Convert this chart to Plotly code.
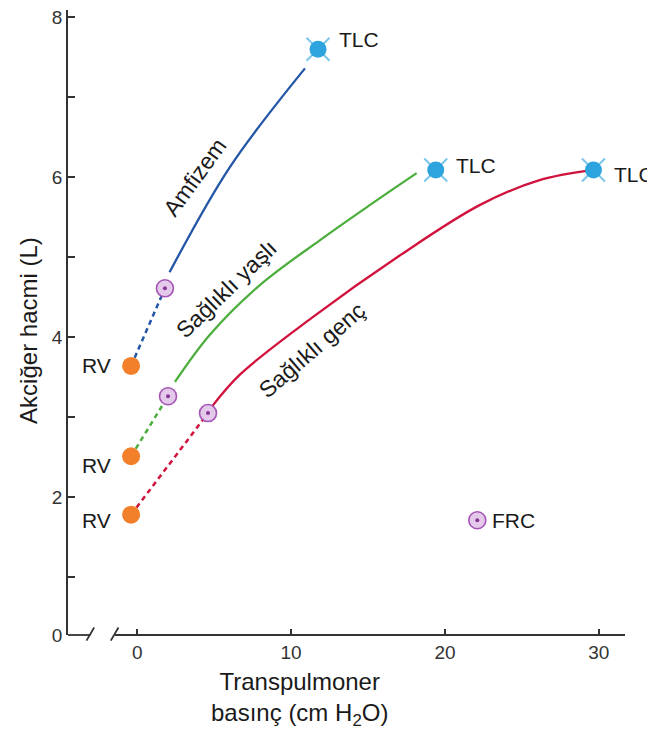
import plotly.graph_objects as go

# ---------------- data ----------------
# Emphysema (Amfizem)
emph_rv = (-0.4, 3.64)
emph_frc = (1.8, 4.61)
emph_x = [2.1, 6.0, 10.9]
emph_y = [4.81, 6.12, 7.36]
emph_tlc = (11.75, 7.6)

# Healthy old (Sağlıklı yaşlı)
old_rv = (-0.4, 2.51)
old_frc = (2.0, 3.26)
old_x = [2.45, 4.72, 7.97, 11.86, 15.11, 18.16]
old_y = [3.44, 4.03, 4.65, 5.21, 5.65, 6.05]
old_tlc = (19.4, 6.09)

# Healthy young (Sağlıklı genç)
young_rv = (-0.4, 1.78)
young_frc = (4.6, 3.05)
young_x = [4.85, 6.67, 11.34, 17.06, 22.25, 26.1, 29.65]
young_y = [3.13, 3.53, 4.24, 5.02, 5.65, 5.96, 6.09]
young_tlc = (29.65, 6.09)

frc_legend = (22.1, 1.71)

x_tickvals = [0, 10, 20, 30]
x_ticktext = ["0", "10", "20", "30"]
y_base = 0.275
y_tickvals = [y_base, 2, 4, 6, 8]
y_ticktext = ["0", "2", "4", "6", "8"]
y_minor = [1, 3, 5, 7]

# ---------------- style ----------------
BLUE = "#2356a6"
GREEN = "#4cae3c"
RED = "#d0123c"
ORANGE = "#f2802a"
TLC_C = "#2ea4de"
TLC_SPIKE = "#7cc6ec"
FRC_FILL = "#e4c9ea"
FRC_LINE = "#a456b4"
FRC_DOT = "#8a3399"
AX = "#333333"
FONT = "Liberation Sans, Arial, sans-serif"

fig = go.Figure()

def dashed(p0, p1, color):
    fig.add_trace(go.Scatter(x=[p0[0], p1[0]], y=[p0[1], p1[1]], mode="lines",
                             line=dict(color=color, width=2.5, dash="5px,4px"),
                             hoverinfo="skip", showlegend=False))

def solid(xs, ys, color):
    fig.add_trace(go.Scatter(x=xs, y=ys, mode="lines",
                             line=dict(color=color, width=2.3, shape="spline", smoothing=1.0),
                             hoverinfo="skip", showlegend=False))

def rv(p):
    fig.add_trace(go.Scatter(x=[p[0]], y=[p[1]], mode="markers",
                             marker=dict(color=ORANGE, size=18, line=dict(width=0)),
                             hoverinfo="skip", showlegend=False))

def frc(p):
    fig.add_trace(go.Scatter(x=[p[0]], y=[p[1]], mode="markers",
                             marker=dict(color=FRC_FILL, size=17, line=dict(color=FRC_LINE, width=1.6)),
                             hoverinfo="skip", showlegend=False))
    fig.add_trace(go.Scatter(x=[p[0]], y=[p[1]], mode="markers",
                             marker=dict(color=FRC_DOT, size=4, line=dict(width=0)),
                             hoverinfo="skip", showlegend=False))

def tlc(p):
    fig.add_trace(go.Scatter(x=[p[0]], y=[p[1]], mode="markers",
                             marker=dict(symbol="x-thin", size=23, line=dict(color=TLC_SPIKE, width=2)),
                             hoverinfo="skip", showlegend=False))
    fig.add_trace(go.Scatter(x=[p[0]], y=[p[1]], mode="markers",
                             marker=dict(color=TLC_C, size=17, line=dict(width=0)),
                             hoverinfo="skip", showlegend=False))

dashed(emph_rv, emph_frc, BLUE)
dashed(old_rv, old_frc, GREEN)
dashed(young_rv, young_frc, RED)
solid(emph_x, emph_y, BLUE)
solid(old_x, old_y, GREEN)
solid(young_x, young_y, RED)
for p in (emph_rv, old_rv, young_rv):
    rv(p)
for p in (emph_frc, old_frc, young_frc, frc_legend):
    frc(p)
for p in (emph_tlc, old_tlc, young_tlc):
    tlc(p)

ann = []
def txt(x, y, s, xanchor="left", angle=0, size=21):
    ann.append(dict(x=x, y=y, xref="x", yref="y", text=s, showarrow=False,
                    xanchor=xanchor, yanchor="middle", textangle=angle,
                    font=dict(family=FONT, size=size, color="#1a1a1a")))

txt(emph_tlc[0] + 1.2, emph_tlc[1] + 0.12, "TLC")
txt(old_tlc[0] + 1.2, old_tlc[1] + 0.06, "TLC")
txt(young_tlc[0] + 1.2, young_tlc[1] - 0.06, "TLC")
txt(-1.6, 3.64, "RV", xanchor="right")
txt(-1.6, 2.4, "RV", xanchor="right")
txt(-1.6, 1.71, "RV", xanchor="right")
txt(frc_legend[0] + 0.85, frc_legend[1], "FRC")
txt(3.75, 6.0, "Amfizem", xanchor="center", angle=-54, size=23)
txt(5.8, 4.6, "Sağlıklı yaşlı", xanchor="center", angle=-44, size=23)
txt(11.35, 3.84, "Sağlıklı genç", xanchor="center", angle=-41, size=23)

ann.append(dict(x=0.4165, y=-0.05, xref="paper", yref="paper", showarrow=False,
                xanchor="center", yanchor="top", align="center",
                text="Transpulmoner<br>basınç (cm H<sub>2</sub>O)",
                font=dict(family=FONT, size=24, color="#1a1a1a")))
ann.append(dict(x=-0.072, y=0.488, xref="paper", yref="paper", showarrow=False,
                xanchor="center", yanchor="middle", textangle=-90,
                text="Akciğer hacmi (L)",
                font=dict(family=FONT, size=24, color="#1a1a1a")))

# broken x-axis baseline
ax_line = dict(color=AX, width=1.8)
shapes = [
    dict(type="line", xref="x", yref="paper", x0=-4.5, x1=-3.05, y0=0, y1=0, line=ax_line),
    dict(type="line", xref="x", yref="paper", x0=-3.3, x1=-2.8, y0=-0.009, y1=0.012, line=ax_line),
    dict(type="line", xref="x", yref="paper", x0=-1.72, x1=-1.22, y0=-0.009, y1=0.012, line=ax_line),
    dict(type="line", xref="x", yref="paper", x0=-1.45, x1=31.7, y0=0, y1=0, line=ax_line),
]

# page body has an 8px margin, so the figure is 8px smaller and offset
fig.update_layout(
    width=647, height=725,
    margin=dict(l=60, r=30, t=2, b=98, autoexpand=False),
    paper_bgcolor="white", plot_bgcolor="white",
    showlegend=False,
    annotations=ann, shapes=shapes,
    font=dict(family=FONT, size=19, color=AX),
    xaxis=dict(range=[-4.5, 31.7], tickvals=x_tickvals, ticktext=x_ticktext,
               ticks="inside", ticklen=6, tickwidth=1.5, tickcolor=AX,
               ticklabelstandoff=4,
               showline=False, showgrid=False, zeroline=False,
               tickfont=dict(family=FONT, size=19, color=AX)),
    yaxis=dict(range=[y_base, 8.09], tickvals=y_tickvals, ticktext=y_ticktext,
               ticks="inside", ticklen=7, tickwidth=1.5, tickcolor=AX,
               ticklabeloverflow="allow",
               minor=dict(tickvals=y_minor, ticks="inside", ticklen=7, tickwidth=1.5, tickcolor=AX),
               showline=True, linecolor=AX, linewidth=1.8,
               showgrid=False, zeroline=False,
               tickfont=dict(family=FONT, size=19, color=AX)),
)

fig.write_html("out.html")
